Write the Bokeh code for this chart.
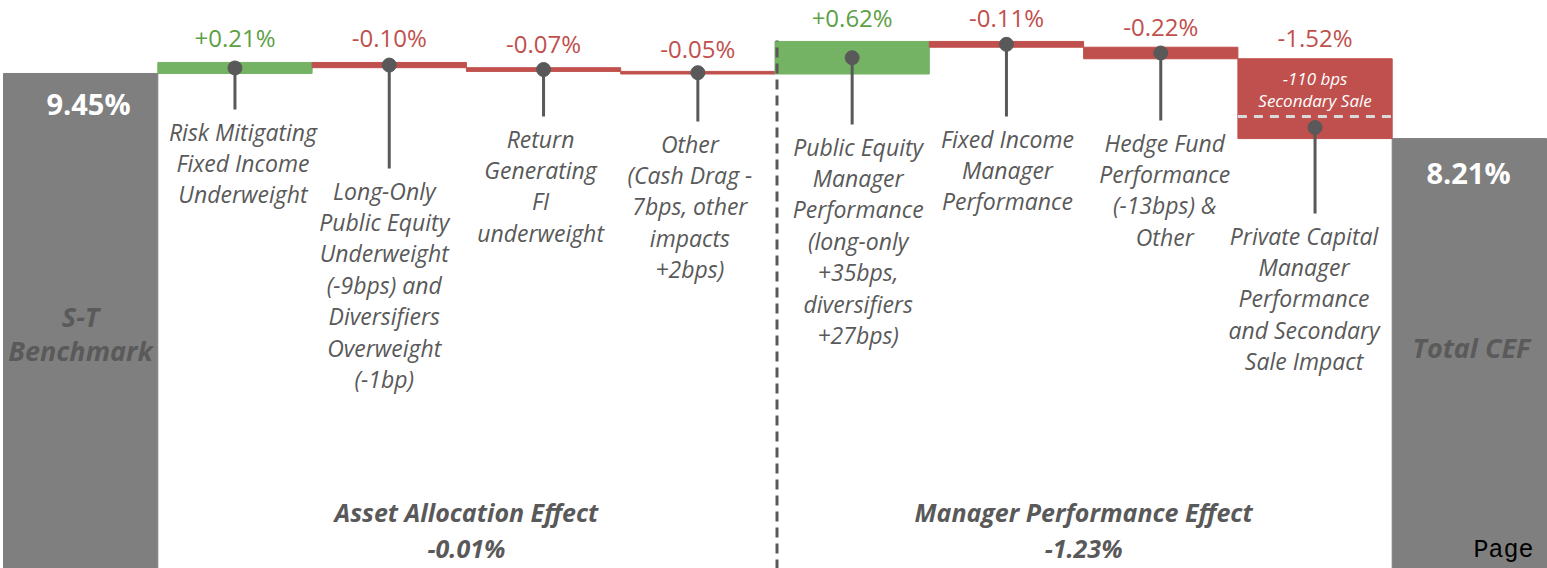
from bokeh.plotting import figure
from bokeh.models import Range1d, ColumnDataSource
from bokeh.core.properties import value
from bokeh.embed import file_html
from bokeh.resources import INLINE

# ---------------- data ----------------
categories = [
    "S-T\nBenchmark",
    "Risk Mitigating\nFixed Income\nUnderweight",
    "Long-Only\nPublic Equity\nUnderweight\n(-9bps) and\nDiversifiers\nOverweight\n(-1bp)",
    "Return\nGenerating\nFI\nunderweight",
    "Other\n(Cash Drag -\n7bps, other\nimpacts\n+2bps)",
    "Public Equity\nManager\nPerformance\n(long-only\n+35bps,\ndiversifiers\n+27bps)",
    "Fixed Income\nManager\nPerformance",
    "Hedge Fund\nPerformance\n(-13bps) &\nOther",
    "Private Capital\nManager\nPerformance\nand Secondary\nSale Impact",
    "Total CEF",
]
values = [9.45, 0.21, -0.10, -0.07, -0.05, 0.62, -0.11, -0.22, -1.52, 8.21]
value_labels = ["9.45%", "+0.21%", "-0.10%", "-0.07%", "-0.05%",
                "+0.62%", "-0.11%", "-0.22%", "-1.52%", "8.21%"]
secondary_sale = -1.10
secondary_sale_text = ["-110 bps", "Secondary Sale"]
effect_names = ["Asset Allocation Effect", "Manager Performance Effect"]
effect_values = ["-0.01%", "-1.23%"]
effect_groups = [(1, 4), (5, 8)]

# ---------------- layout / style ----------------
PX_PCT = 52.5          # pixels per percentage point
PX_BAR = 154.3         # pixels per category
W, H = 1547, 568
Y1 = 10.840
label_first_line_px = [None, 131, 190, 138, 143, 146, 138, 142, 235]
label_dx_px = [None, 8, -5, -3, -8, 6, 1, 4, -11]
value_gap_px = [None, 25, 25, 24, 23, 24, 24, 21, 21]
LINE_PX = 31.4
STICK_GAP_PX = 22
total_value_pos = [(88, 103), (1468, 172)]
total_name_pos = [(80, (316, 350)), (1471, (347,))]

GREEN = "#74b364"
GREEN_TXT = "#5ea046"
RED = "#c0504d"
GREY = "#7f7f7f"
DARK = "#595959"
FONT = "Open Sans"


def ry(py):
    return Y1 - py / PX_PCT


def rx(px):
    return (px - 3) / PX_BAR


p = figure(width=W, height=H, output_backend="svg", toolbar_location=None,
           x_range=Range1d(rx(0), rx(W)), y_range=Range1d(ry(H), ry(0)),
           min_border=0)
p.axis.visible = False
p.grid.visible = False
p.outline_line_color = None
p.background_fill_color = "white"
p.border_fill_color = "white"

# waterfall geometry
bottoms, tops, colors = [], [], []
level = 0.0
for i, v in enumerate(values):
    if i == 0 or i == len(values) - 1:
        bottoms.append(0.0)
        tops.append(v)
        colors.append(GREY)
        level = v
    else:
        new = level + v
        bottoms.append(min(level, new))
        tops.append(max(level, new))
        colors.append(GREEN if v > 0 else RED)
        level = new

xs = [i + 0.5 for i in range(len(values))]
src = ColumnDataSource(dict(x=xs, bottom=bottoms, top=tops, color=colors))
p.vbar(x="x", width=1.0, bottom="bottom", top="top", fill_color="color",
       line_color="color", source=src)

# dashed line inside the secondary sale bar
last = len(values) - 2
sec_level = tops[last] + secondary_sale
p.segment(x0=[last], y0=[sec_level], x1=[last + 1], y1=[sec_level],
          line_color="#d9d9d9", line_width=3, line_dash="9 7")
p.text(x=[xs[last]] * 2, y=[tops[last]] * 2, text=secondary_sale_text,
       y_offset=[20, 42], text_align="center", text_baseline="middle",
       text_color="white", text_font=value(FONT), text_font_style="italic",
       text_font_size="17px")

# separator between effects
p.segment(x0=[5.013], y0=[0], x1=[5.013], y1=[tops[5] + 0.02],
          line_color=DARK, line_width=3, line_dash="10 6")

# lollipops + labels
for i in range(1, len(values) - 1):
    if i == last:
        dot_y = (sec_level + bottoms[i]) / 2
    else:
        dot_y = (bottoms[i] + tops[i]) / 2
    first = ry(label_first_line_px[i])
    stick_end = first + STICK_GAP_PX / PX_PCT
    p.segment(x0=[xs[i]], y0=[dot_y], x1=[xs[i]], y1=[stick_end],
              line_color=DARK, line_width=3)
    p.scatter(x=[xs[i]], y=[dot_y], size=14, fill_color=DARK, line_color=DARK)
    lines = categories[i].split("\n")
    lx = xs[i] + label_dx_px[i] / PX_BAR
    p.text(x=[lx] * len(lines),
           y=[first - k * LINE_PX / PX_PCT for k in range(len(lines))],
           text=lines, text_align="center", text_baseline="middle",
           text_color=DARK, text_font=value(FONT), text_font_style="italic",
           text_font_size="23px")
    col = GREEN_TXT if values[i] > 0 else RED
    p.text(x=[xs[i]], y=[tops[i]], text=[value_labels[i]], y_offset=[-value_gap_px[i]],
           text_align="center", text_baseline="middle", text_color=col,
           text_font=value(FONT), text_font_size="24px")

# totals
for k, i in enumerate([0, len(values) - 1]):
    vx, vy = total_value_pos[k]
    p.text(x=[rx(vx)], y=[ry(vy)], text=[value_labels[i]],
           text_align="center", text_baseline="middle", text_color="white",
           text_font=value(FONT), text_font_style="bold", text_font_size="29px")
    nx, nys = total_name_pos[k]
    lines = categories[i].split("\n")
    p.text(x=[rx(nx)] * len(lines), y=[ry(v) for v in nys], text=lines,
           text_align="center", text_baseline="middle", text_color="#5a5a5a",
           text_font=value(FONT), text_font_style="bold italic", text_font_size="27px")

# effect labels
for (a, b), name, val in zip(effect_groups, effect_names, effect_values):
    cx = (a + b + 1) / 2
    p.text(x=[cx, cx], y=[ry(511), ry(547)], text=[name, val],
           text_align="center", text_baseline="middle", text_color=DARK,
           text_font=value(FONT), text_font_style="bold italic", text_font_size="25px")

p.text(x=[rx(1473)], y=[ry(550)], text=["Page"], text_align="left",
       text_baseline="middle", text_color="black",
       text_font=value("Liberation Mono"), text_font_size="25px")

open("out.html", "w").write(file_html(p, INLINE))
